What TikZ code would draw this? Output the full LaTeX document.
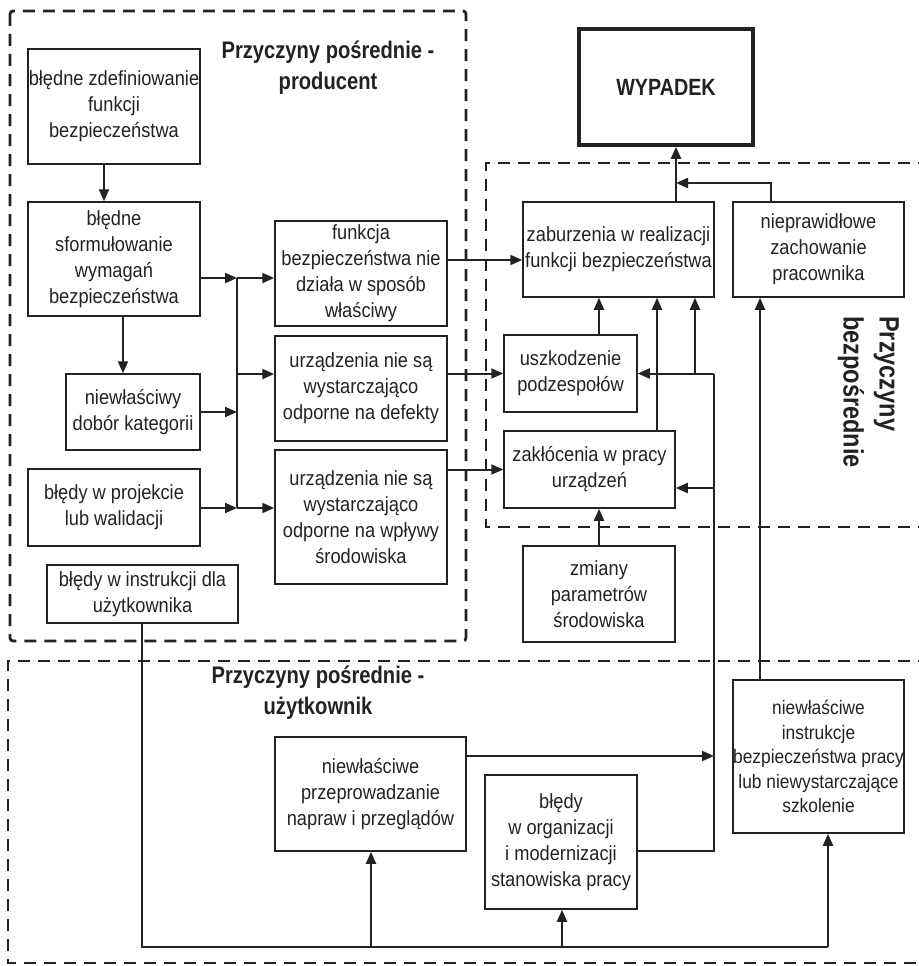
\documentclass[tikz,border=0pt]{standalone}
\usepackage{fontspec}
\setmainfont{Liberation Sans}[FakeStretch=0.89]
\newfontfamily\titlefont{Liberation Sans}[FakeStretch=0.84]
\usetikzlibrary{arrows.meta}
\definecolor{ink}{HTML}{222222}
\tikzset{
  box/.style={draw=ink, line width=1.5pt, rectangle, inner sep=0pt, align=center, text=ink,
    font=\fontsize{20.5}{26}\selectfont},
  arr/.style={draw=ink, line width=2pt, -{Triangle[length=12pt,width=10pt]}},
  ln/.style={draw=ink, line width=1.5pt},
  grp/.style={draw=ink, line width=2.8pt, dash pattern=on 12pt off 8pt},
  ttl/.style={text=ink, align=center, inner sep=0pt, font=\titlefont\bfseries\fontsize{24}{31}\selectfont},
}
\begin{document}
\begin{tikzpicture}[x=1pt,y=-1pt]
\useasboundingbox (0,0) rectangle (918,966);
% group frames
\draw[grp, rounded corners=3pt] (10,11) rectangle (466,641);
\draw[grp] (930,163) -- (486,163) -- (486,527) -- (930,527);
\draw[grp] (930,661) -- (8,661) -- (8,963) -- (930,963);
% titles
\node[ttl] (t1) at (328,68) {Przyczyny pośrednie -\\producent};
\node[ttl] (t2) at (318,693) {Przyczyny pośrednie -\\użytkownik};
\node[ttl, font=\titlefont\bfseries\fontsize{28}{36}\selectfont, align=left, rotate=-90, anchor=north west] (t3) at (899,316) {Przyczyny\\bezpośrednie};
% nodes
\node[box, minimum width=172pt, minimum height=115pt] (n1) at (114,106.5) {błędne zdefiniowanie\\funkcji\\bezpieczeństwa};
\node[box, minimum width=172pt, minimum height=114pt] (n2) at (114,259) {błędne\\sformułowanie\\wymagań\\bezpieczeństwa};
\node[box, minimum width=172pt, minimum height=105pt] (n3) at (361,273.5) {funkcja\\bezpieczeństwa nie\\działa w sposób\\właściwy};
\node[box, minimum width=172pt, minimum height=105pt] (n4) at (361,388.5) {urządzenia nie są\\wystarczająco\\odporne na defekty};
\node[box, minimum width=172pt, minimum height=134pt] (n5) at (361,517) {urządzenia nie są\\wystarczająco\\odporne na wpływy\\środowiska};
\node[box, minimum width=134pt, minimum height=76pt] (n6) at (133,412) {niewłaściwy\\dobór kategorii};
\node[box, minimum width=172pt, minimum height=77pt] (n7) at (114,507.5) {błędy w projekcie\\lub walidacji};
\node[box, minimum width=191pt, minimum height=58pt] (n8) at (142.5,594) {błędy w instrukcji dla\\użytkownika};
\node[box, line width=3.5pt, minimum width=174pt, minimum height=116pt, font=\titlefont\bfseries\fontsize{23.5}{28}\selectfont] (n9) at (666,87) {WYPADEK};
\node[box, minimum width=191pt, minimum height=95pt] (n10) at (618.5,249.5) {zaburzenia w realizacji\\funkcji bezpieczeństwa};
\node[box, minimum width=171pt, minimum height=95pt] (n11) at (818.5,249.5) {nieprawidłowe\\zachowanie\\pracownika};
\node[box, minimum width=133pt, minimum height=77pt] (n12) at (570.5,373.5) {uszkodzenie\\podzespołów};
\node[box, minimum width=171pt, minimum height=77pt] (n13) at (589.5,469.5) {zakłócenia w pracy\\urządzeń};
\node[box, minimum width=152pt, minimum height=96pt] (n14) at (599,594) {zmiany\\parametrów\\środowiska};
\node[box, minimum width=191pt, minimum height=114pt] (n15) at (370.5,794) {niewłaściwe\\przeprowadzanie\\napraw i przeglądów};
\node[box, minimum width=152pt, minimum height=134pt] (n16) at (561,842) {błędy\\w organizacji\\i modernizacji\\stanowiska pracy};
\node[box, minimum width=171pt, minimum height=153pt, font=\fontsize{19.5}{24.5}\selectfont] (n17) at (818.5,756.5) {niewłaściwe\\instrukcje\\bezpieczeństwa pracy\\lub niewystarczające\\szkolenie};
% junction coordinates
\coordinate (jA) at (237,278);
\coordinate (jB) at (237,508);
\coordinate (jC) at (237,374);
\coordinate (r1) at (714,851);
\coordinate (r2) at (714,373.5);
\coordinate (r3) at (695,373.5);
\coordinate (r4) at (714,488);
\coordinate (j9) at (676,183);
\coordinate (b0) at (142,947);
\coordinate (b1) at (371,947);
\coordinate (b2) at (562,947);
\coordinate (b3) at (828,947);
% producer side
\draw[arr] (n1.south -| 104,0) -- (n2.north -| 104,0);
\draw[arr] (n2.south -| 123,0) -- (n6.north -| 123,0);
\draw[ln] (jA) -- (jB);
\draw[arr] (n2.east |- jA) -- (jA);
\draw[arr] (jA) -- (n3.west |- jA);
\draw[arr] (jC) -- (n4.west |- jC);
\draw[arr] (n6.east) -- (n6.east -| jA);
\draw[arr] (n7.east |- jB) -- (jB);
\draw[arr] (jB) -- (n5.west |- jB);
% into direct causes
\draw[arr] (n3.east |- 0,260) -- (n10.west |- 0,260);
\draw[arr] (n4.east |- n12.west) -- (n12.west);
\draw[arr] (n5.east |- n13.west) -- (n13.west);
\draw[arr] (n12.north -| 599,0) -- (n10.south -| 599,0);
\draw[arr] (n13.north -| 657,0) -- (n10.south -| 657,0);
\draw[ln] (n16.east |- r1) -- (r1) -- (r2);
\draw[arr] (r2) -- (n12.east |- r2);
\draw[arr] (r3) -- (n10.south -| r3);
\draw[arr] (r4) -- (n13.east |- r4);
\draw[arr] (n15.east |- 0,756) -- (r1 |- 0,756);
\draw[arr] (n14.north) -- (n13.south -| n14.north);
\draw[arr] (n17.north -| 760,0) -- (n11.south -| 760,0);
\draw[arr] (n10.north -| j9) -- (n9.south -| j9);
\draw[arr] (n11.north -| 771,0) -- (771,183) -- (j9);
% user side
\draw[ln] (n8.south -| b0) -- (b0) -- (b3);
\draw[arr] (b1) -- (n15.south -| b1);
\draw[arr] (b2) -- (n16.south -| b2);
\draw[arr] (b3) -- (n17.south -| b3);
\end{tikzpicture}
\end{document}
